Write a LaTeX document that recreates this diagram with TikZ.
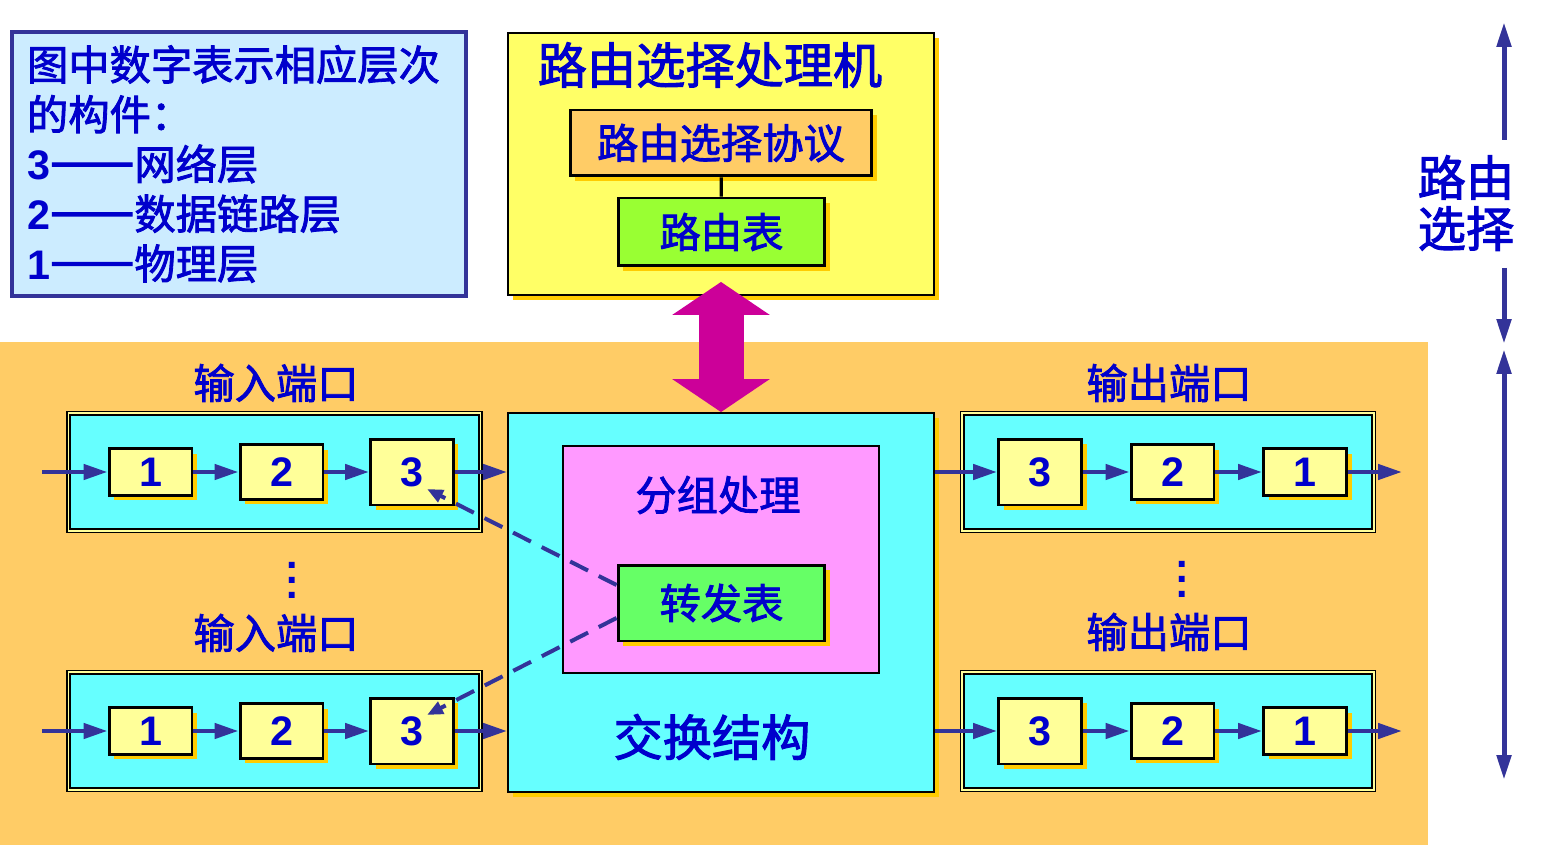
\documentclass[tikz,border=0pt]{standalone}
\usepackage{fontspec}
\setmainfont{Liberation Sans}
\newfontfamily\cjk{Noto Sans CJK SC}[UprightFeatures={FakeBold=2}]
\usepackage{xcolor}
\usetikzlibrary{shadows}
\usetikzlibrary{arrows.meta}
\definecolor{txtBlue}{HTML}{0000CC}
\definecolor{arrBlue}{HTML}{333399}
\definecolor{legFill}{HTML}{CCECFF}
\definecolor{bandOrange}{HTML}{FFCC66}
\definecolor{shGold}{HTML}{FFCC00}
\definecolor{rpYellow}{HTML}{FFFF66}
\definecolor{rtGreen}{HTML}{99FF33}
\definecolor{ftGreen}{HTML}{66FF66}
\definecolor{sfCyan}{HTML}{66FFFF}
\definecolor{pgPink}{HTML}{FF99FF}
\definecolor{bigMagenta}{HTML}{CC0099}
\definecolor{layYellow}{HTML}{FFFF99}

\begin{document}
\begin{tikzpicture}
[x=0.02cm, y=-0.02cm,
 cjkText/.style={text=txtBlue, font=\cjk\fontsize{23.5}{28.3}\selectfont, inner sep=0pt},
 cjkBig/.style={cjkText, font=\cjk\fontsize{28}{30}\selectfont},
 shadowGold/.style={general shadow={fill=shGold, shadow xshift=0.1cm, shadow yshift=-0.1cm}},
 frameDecorate/.style={shape=rectangle, draw=black, line width=1.1pt, inner sep=0pt},
 tableDecorate/.style={shape=rectangle, draw=black, line width=1.7pt, inner sep=0pt, shadowGold, cjkText},
 layerDecorate/.style={tableDecorate, fill=layYellow, font=\bfseries\fontsize{23.5}{28}\selectfont, minimum width=1.66cm},
 lay1/.style={minimum height=0.94cm},
 lay2/.style={minimum height=1.1cm},
 lay3/.style={minimum height=1.32cm},
 portDecorate/.style={shape=rectangle, draw=black, line width=1pt, double=layYellow, double distance=0.85pt, fill=sfCyan, minimum width=8.24cm, minimum height=2.36cm},
 dotsDecorate/.style={text=txtBlue, font=\bfseries\fontsize{23.5}{8.5}\selectfont, align=center, inner sep=0pt},
 lineDecorate/.style={-{Triangle[length=0.48cm,width=0.3cm]}, draw=arrBlue, line width=0.09cm},
 dashDecorate/.style={-{Triangle[length=0.32cm,width=0.26cm]}, draw=arrBlue, line width=0.08cm, dash pattern=on 0.4cm off 0.24cm},
 vertDecorate/.style={draw=arrBlue, line width=0.1cm, >={Triangle[length=0.5cm,width=0.28cm]}},
 bigArrow/.style={{Triangle[length=0.66cm,width=1.92cm]}-{Triangle[length=0.66cm,width=1.92cm]}, draw=bigMagenta, line width=0.9cm}]

\fill[white] (0,0) rectangle (1546,851);
\useasboundingbox (0,0) rectangle (1546,851);
\fill[bandOrange] (0,342) rectangle (1428,845);

% legend
\node (legend) at (239,164) [shape=rectangle, draw=arrBlue, line width=2.3pt, fill=legFill, minimum width=9.08cm, minimum height=5.28cm, text width=8.48cm, align=left, cjkText, inner xsep=0.3cm]
 {图中数字表示相应层次\\的构件：\\{\rmfamily\bfseries 3}\scalebox{1.22}[1.3]{——}网络层\\{\rmfamily\bfseries 2}\scalebox{1.22}[1.3]{——}数据链路层\\{\rmfamily\bfseries 1}\scalebox{1.22}[1.3]{——}物理层};

% routing processor
\node (rp) at (721,164) [frameDecorate, fill=rpYellow, shadowGold, minimum width=8.52cm, minimum height=5.24cm] {};
\node (rpTitle) at (710,65) [cjkBig] {路由选择处理机};
\node (proto) at (721,143) [tableDecorate, fill=bandOrange, minimum width=6.04cm, minimum height=1.32cm] {路由选择协议};
\node (rtab) at (721.5,232) [tableDecorate, fill=rtGreen, minimum width=4.14cm, minimum height=1.36cm] {路由表};
\draw[line width=1.9pt] (proto) -- (rtab);

% switching fabric
\node (sf) at (721,602.5) [frameDecorate, fill=sfCyan, shadowGold, minimum width=8.52cm, minimum height=7.58cm] {};
\node (pg) at (721,559.5) [frameDecorate, fill=pgPink, minimum width=6.32cm, minimum height=4.54cm] {};
\node (pgTitle) at (718,495) [cjkText] {分组处理};
\node (ftab) at (721.5,603) [tableDecorate, fill=ftGreen, minimum width=4.14cm, minimum height=1.52cm] {转发表};
\node (sfTitle) at (712,737) [cjkBig] {交换结构};

\draw[bigArrow] ([yshift=0.28cm]rp.south) -- (sf.north);

% ports
\foreach \pr/\py in {1/472, 2/731}
{
  \node (inPort\pr) at (274.5,\py) [portDecorate] {};
  \node (outPort\pr) at (1168,\py) [portDecorate] {};
  \foreach \lay/\x in {1/150.5,2/281.5,3/412}
    \node (in\pr\lay) at (\x,\py) [layerDecorate, lay\lay] {\lay};
  \foreach \lay/\x in {3/1040,2/1172.5,1/1305}
    \node (out\pr\lay) at (\x,\py) [layerDecorate, lay\lay] {\lay};
  \coordinate (inStart\pr) at (42,\py);
  \coordinate (outEnd\pr) at (1402,\py);
  \draw[lineDecorate] (inStart\pr) -- (in\pr1);
  \draw[lineDecorate] (in\pr1) -- (in\pr2);
  \draw[lineDecorate] (in\pr2) -- (in\pr3);
  \draw[lineDecorate] (in\pr3) -- (in\pr3 -| sf.west);
  \draw[lineDecorate] (out\pr3 -| sf.east) -- (out\pr3);
  \draw[lineDecorate] (out\pr3) -- (out\pr2);
  \draw[lineDecorate] (out\pr2) -- (out\pr1);
  \draw[lineDecorate] (out\pr1) -- (outEnd\pr);
}

\node (inLabel1) at (276,383) [cjkText] {输入端口};
\node (inLabel2) at (276,633) [cjkText] {输入端口};
\node (outLabel1) at (1169,383) [cjkText] {输出端口};
\node (outLabel2) at (1169,632) [cjkText] {输出端口};
\node (inDots) at (292,580) [dotsDecorate] {.\\.\\.};
\node (outDots) at (1182,579) [dotsDecorate] {.\\.\\.};

% forwarding table to input ports
\draw[dashDecorate] ([yshift=0.36cm]ftab.west) -- ([xshift=0.3cm,yshift=-0.34cm]in13.center);
\draw[dashDecorate] ([yshift=-0.3cm]ftab.west) -- ([xshift=0.3cm,yshift=0.32cm]in23.center);

% routing selection side arrows
\node (rsText) at (1466,203) [cjkText, align=center, font=\cjk\fontsize{27.5}{29}\selectfont] {路由\\选择};
\coordinate (rsTop) at (1504,22);
\coordinate (rsUpper) at (1504,140);
\coordinate (rsLower) at (1504,268);
\coordinate (rsMid) at (1504,344);
\coordinate (rsMidB) at (1504,349);
\coordinate (rsBottom) at (1504,780);
\draw[vertDecorate,->] (rsUpper) -- (rsTop);
\draw[vertDecorate,->] (rsLower) -- (rsMid);
\draw[vertDecorate,<->] (rsMidB) -- (rsBottom);
\end{tikzpicture}
\end{document}
